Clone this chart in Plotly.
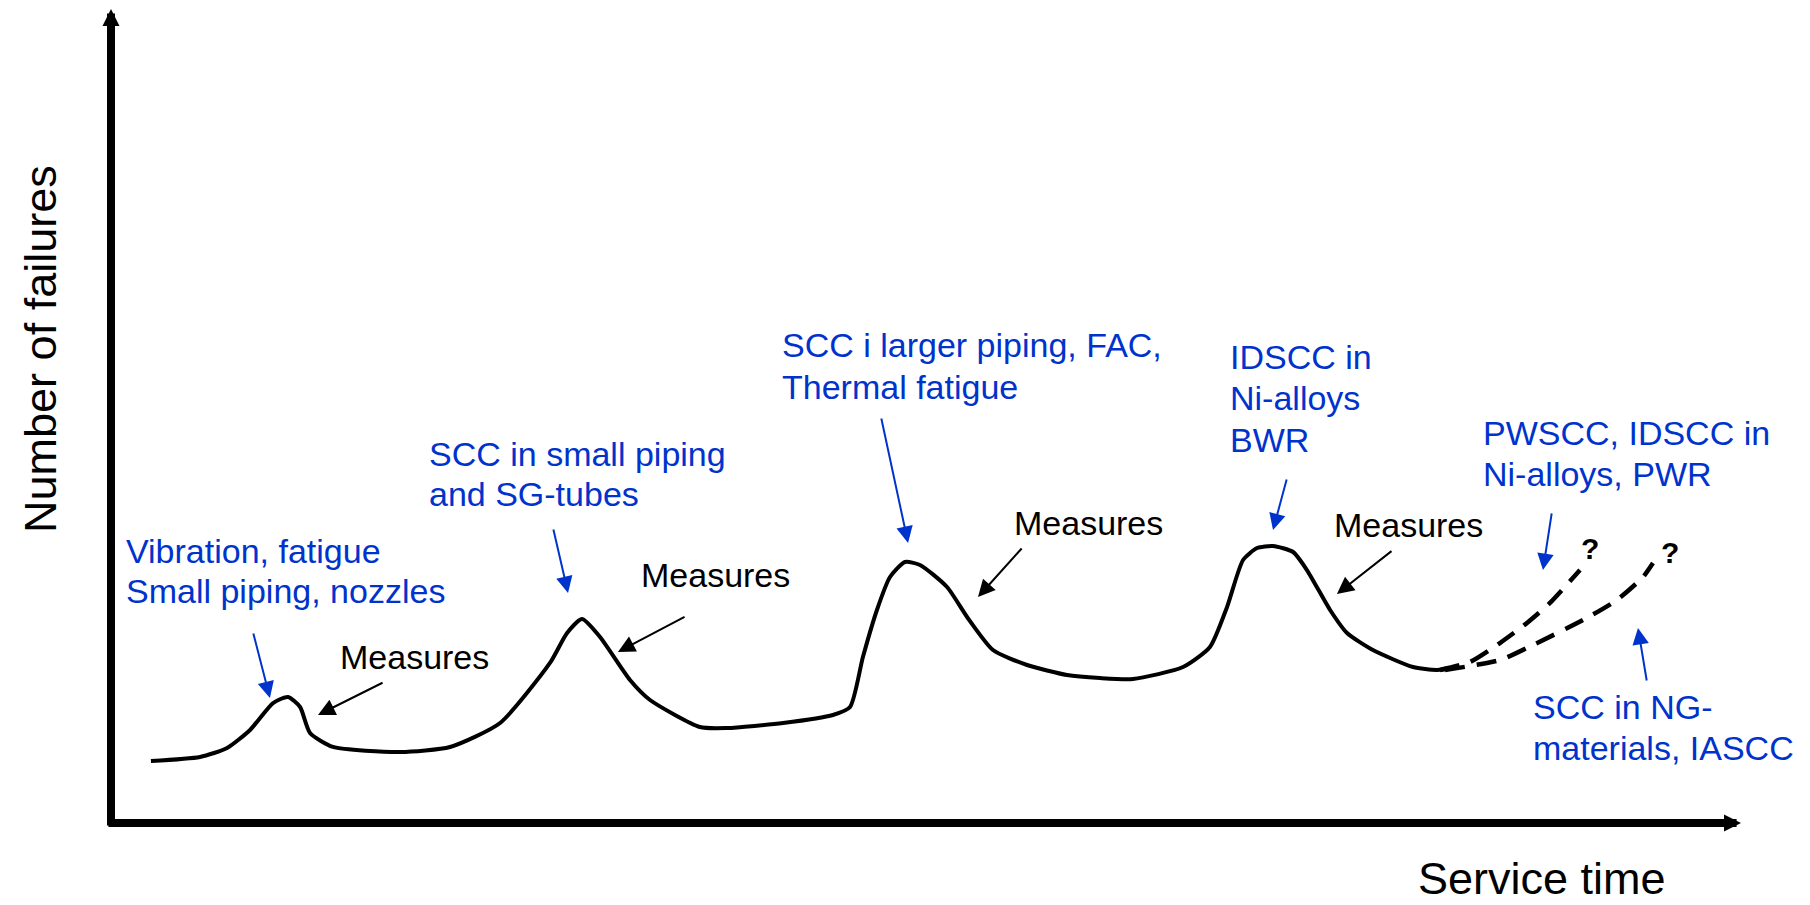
import plotly.graph_objects as go

# ---------------- data (schematic: arbitrary units 0-100) ----------------
service_time = [2.45, 5.46, 7.12, 8.53, 9.94, 10.86, 11.60, 12.21, 13.62, 17.73, 20.80,
                23.87, 26.93, 27.98, 28.90, 30.00, 31.84, 33.07, 36.13, 37.79, 41.23,
                44.29, 45.34, 46.13, 46.99, 47.79, 48.71, 49.63, 51.29, 52.52, 54.11,
                56.20, 58.65, 60.67, 62.70, 65.77, 67.42, 68.47, 69.45, 70.31, 71.29,
                72.52, 73.37, 74.79, 75.83, 77.42, 79.88, 81.35, 82.58]
failures = [7.62, 8.11, 9.21, 11.43, 14.74, 15.48, 14.25, 11.06, 9.34, 8.72, 9.34,
            12.29, 19.66, 23.34, 25.06, 22.85, 17.57, 15.11, 11.79, 11.67, 12.29,
            13.27, 14.25, 20.39, 26.17, 30.22, 32.06, 31.70, 28.99, 25.31, 21.25,
            19.41, 18.18, 17.81, 17.69, 19.16, 21.62, 26.54, 32.31, 33.78, 34.03,
            33.29, 31.08, 26.17, 23.34, 21.25, 19.16, 18.80, 19.16]

proj_pwr_time = [81.53, 83.37, 85.21, 86.87, 88.28, 90.12]
proj_pwr_fail = [18.80, 19.78, 22.11, 24.57, 27.03, 31.08]

proj_ng_time = [81.84, 85.21, 87.24, 90.31, 92.39, 93.99, 94.60]
proj_ng_fail = [18.80, 20.02, 21.87, 24.94, 27.40, 30.22, 31.94]

x_title = "Service time"
y_title = "Number of failures"

# blue labels: list of lines
cause_labels = [
    ["Vibration, fatigue", "Small piping, nozzles"],
    ["SCC in small piping", "and SG-tubes"],
    ["SCC i larger piping, FAC,", "Thermal fatigue"],
    ["IDSCC in", "Ni-alloys", "BWR"],
    ["PWSCC, IDSCC in", "Ni-alloys, PWR"],
    ["SCC in NG-", "materials, IASCC"],
]
measure_label = "Measures"

# ---------------- layout / annotation placement ----------------
BLUE = "#0033CC"
FONT = "Liberation Sans, Arial, sans-serif"

cause_pos = [  # (left x, y of each line)
    (0.86, [33.42, 28.50]),
    (19.45, [45.33, 40.42]),
    (41.10, [58.72, 53.56]),
    (68.59, [57.25, 52.21, 47.05]),
    (84.11, [47.91, 42.87]),
    (87.18, [14.25, 9.21]),
]
cause_arrows = [  # (tail x, tail y, tip x, tip y)
    (8.71, 23.46, 9.75, 15.36),
    (27.12, 36.24, 28.04, 28.26),
    (47.24, 49.88, 48.90, 34.40),
    (72.15, 42.38, 71.29, 35.99),
    (88.40, 38.21, 87.85, 31.08),
    (94.23, 17.32, 93.68, 23.96),
]
measure_pos = [(13.99, 20.39), (32.45, 30.47), (55.34, 36.86), (74.97, 36.61)]
measure_arrows = [
    (16.75, 17.32, 12.70, 13.27),
    (35.28, 25.43, 31.10, 21.01),
    (55.95, 33.91, 53.19, 27.76),
    (78.65, 33.54, 75.21, 28.13),
]
question_pos = [(90.74, 33.78), (95.64, 33.29)]

fig = go.Figure()

fig.add_trace(go.Scatter(
    x=service_time, y=failures, mode="lines",
    line=dict(color="black", width=4, shape="spline", smoothing=0.6),
    hoverinfo="skip", showlegend=False, cliponaxis=False))
fig.add_trace(go.Scatter(
    x=proj_pwr_time, y=proj_pwr_fail, mode="lines",
    line=dict(color="black", width=4.5, dash="20px,12px", shape="spline", smoothing=0.6),
    hoverinfo="skip", showlegend=False, cliponaxis=False))
fig.add_trace(go.Scatter(
    x=proj_ng_time, y=proj_ng_fail, mode="lines",
    line=dict(color="black", width=4.5, dash="20px,12px", shape="spline", smoothing=0.6),
    hoverinfo="skip", showlegend=False, cliponaxis=False))

ann = []
# axes with arrowheads
ann.append(dict(x=100, y=0, ax=-0.25, ay=0, xref="x", yref="y", axref="x", ayref="y",
                text="", showarrow=True, arrowhead=2, arrowsize=0.425, arrowwidth=8,
                arrowcolor="black", standoff=0))
ann.append(dict(x=0, y=100, ax=0, ay=-0.5, xref="x", yref="y", axref="x", ayref="y",
                text="", showarrow=True, arrowhead=2, arrowsize=0.425, arrowwidth=8,
                arrowcolor="black", standoff=0))
# axis titles (paper coordinates, outside the plotting area)
ann.append(dict(x=0.8779, y=-0.0676, xref="paper", yref="paper", text=x_title, showarrow=False,
                xanchor="center", yanchor="middle", font=dict(family=FONT, size=45, color="black")))
ann.append(dict(x=-0.0436, y=0.5823, xref="paper", yref="paper", text=y_title, showarrow=False,
                textangle=-90, xanchor="center", yanchor="middle",
                font=dict(family=FONT, size=45, color="black")))

# cause labels
for lines, (lx, ys) in zip(cause_labels, cause_pos):
    for line, ly in zip(lines, ys):
        ann.append(dict(x=lx, y=ly, xref="x", yref="y", text=line, showarrow=False,
                        xanchor="left", yanchor="middle", borderpad=0,
                        font=dict(family=FONT, size=34, color=BLUE)))
for tx, ty, hx, hy in cause_arrows:
    ann.append(dict(x=hx, y=hy, ax=tx, ay=ty, xref="x", yref="y", axref="x", ayref="y",
                    text="", showarrow=True, arrowhead=2, arrowsize=1.65, arrowwidth=2,
                    arrowcolor=BLUE, standoff=0))

# measures labels
for lx, ly in measure_pos:
    ann.append(dict(x=lx, y=ly, xref="x", yref="y", text=measure_label, showarrow=False,
                    xanchor="left", yanchor="middle", borderpad=0,
                    font=dict(family=FONT, size=34, color="black")))
for tx, ty, hx, hy in measure_arrows:
    ann.append(dict(x=hx, y=hy, ax=tx, ay=ty, xref="x", yref="y", axref="x", ayref="y",
                    text="", showarrow=True, arrowhead=2, arrowsize=1.7, arrowwidth=2,
                    arrowcolor="black", standoff=0))

for qx, qy in question_pos:
    ann.append(dict(x=qx, y=qy, xref="x", yref="y", text="<b>?</b>", showarrow=False,
                    xanchor="center", yanchor="middle",
                    font=dict(family=FONT, size=30, color="black")))

fig.update_layout(
    width=1810, height=905,
    margin=dict(l=111, r=69, t=9, b=82, pad=0),
    paper_bgcolor="white", plot_bgcolor="white",
    xaxis=dict(range=[0, 100], visible=False, fixedrange=True),
    yaxis=dict(range=[0, 100], visible=False, fixedrange=True),
    annotations=ann,
    showlegend=False,
)

fig.write_html("out.html",
               config={"displayModeBar": False},
               post_script="document.body.style.margin='0';document.body.style.overflow='hidden';")
